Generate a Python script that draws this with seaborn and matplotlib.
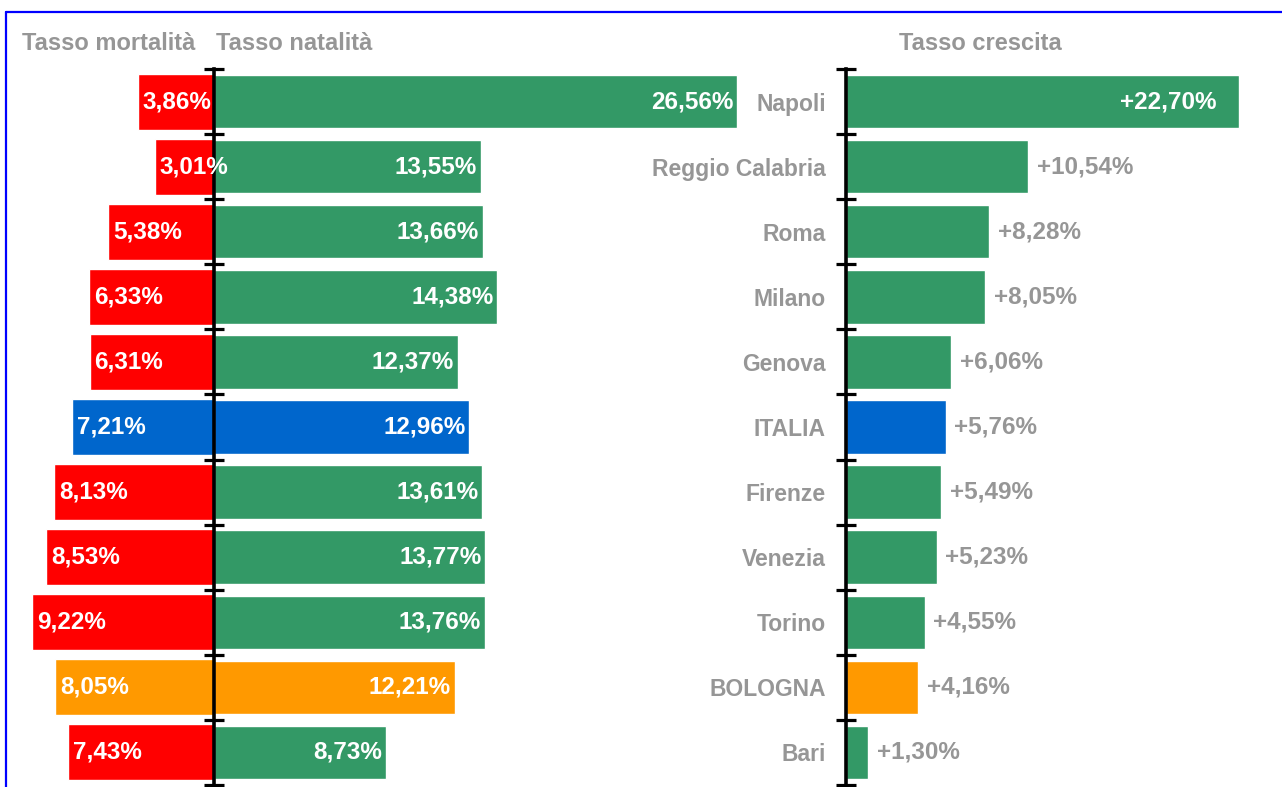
import numpy as np
import pandas as pd
import matplotlib
matplotlib.use("Agg")
import matplotlib.pyplot as plt
from matplotlib.lines import Line2D
import seaborn as sns

# --- data -------------------------------------------------------------
cities = ["Napoli", "Reggio Calabria", "Roma", "Milano", "Genova", "ITALIA",
          "Firenze", "Venezia", "Torino", "BOLOGNA", "Bari"]
mortality = [3.86, 3.01, 5.38, 6.33, 6.31, 7.21, 8.13, 8.53, 9.22, 8.05, 7.43]
natality = [26.56, 13.55, 13.66, 14.38, 12.37, 12.96, 13.61, 13.77, 13.76, 12.21, 8.73]
growth = [22.70, 10.54, 8.28, 8.05, 6.06, 5.76, 5.49, 5.23, 4.55, 4.16, 1.30]

# --- style ------------------------------------------------------------
GREEN, RED, BLUE, ORANGE = "#339966", "#FF0000", "#0066CC", "#FF9900"
GRAY = "#969696"
special = {"ITALIA": BLUE, "BOLOGNA": ORANGE}
mort_pal = {c: special.get(c, RED) for c in cities}
nat_pal = {c: special.get(c, GREEN) for c in cities}
gro_pal = {c: special.get(c, GREEN) for c in cities}

sns.set_style("white")
plt.rcParams["font.family"] = ["Liberation Sans", "DejaVu Sans"]
plt.rcParams["font.weight"] = "bold"
FS = 17.5      # value labels
FS_CITY = 16.5
FS_HEAD = 17

W, H = 1282, 787
fig = plt.figure(figsize=(W / 100, H / 100), dpi=100)
fig.patch.set_facecolor("white")


def px_axes(left, top, right, bottom):
    return fig.add_axes([left / W, 1 - bottom / H, (right - left) / W, (bottom - top) / H])


def fmt(v, sign=False):
    s = f"{v:.2f}".replace(".", ",") + "%"
    return ("+" + s) if sign else s


df = pd.DataFrame({"city": cities, "mort": mortality, "nat": natality, "gro": growth})
df["mort_neg"] = -df["mort"]
n = len(cities)
bounds = np.arange(n + 1) - 0.5


def style_axis(ax):
    for side in ("top", "right", "bottom"):
        ax.spines[side].set_visible(False)
    ax.spines["left"].set_linewidth(2.6)
    ax.spines["left"].set_color("black")
    ax.spines["left"].set_zorder(4)
    ax.set_ylim(n - 0.5, -0.5)
    ax.set_yticks(bounds)
    ax.set_yticklabels([""] * len(bounds))
    ax.tick_params(axis="y", which="major", direction="inout", length=14,
                   width=2.3, color="black", left=True)
    ax.set_xticks([])
    ax.set_xlabel("")
    ax.set_ylabel("")
    ax.set_facecolor("none")


# --- left panel: mortality (left) and natality (right) -----------------
axL = px_axes(14, 69, 740, 785)
sns.barplot(data=df, x="mort_neg", y="city", hue="city", order=cities,
            palette=mort_pal, saturation=1, width=0.86, legend=False, ax=axL)
sns.barplot(data=df, x="nat", y="city", hue="city", order=cities,
            palette=nat_pal, saturation=1, width=0.82, legend=False, ax=axL)
axL.set_xlim(-10.152, 26.70)
axL.spines["left"].set_position(("data", 0))
style_axis(axL)

for i, (m, v) in enumerate(zip(mortality, natality)):
    axL.text(-m + 0.25, i, fmt(m), ha="left", va="center", color="white",
             fontsize=FS, fontweight="bold", zorder=6)
    axL.text(v - 0.2, i, fmt(v), ha="right", va="center", color="white",
             fontsize=FS, fontweight="bold", zorder=6)

# --- right panel: growth ----------------------------------------------
axR = px_axes(846, 69, 1270, 785)
sns.barplot(data=df, x="gro", y="city", hue="city", order=cities,
            palette=gro_pal, saturation=1, width=0.82, legend=False, ax=axR)
axR.set_xlim(0, 24.5)
style_axis(axR)
axR.set_yticks(np.arange(n), minor=True)
axR.set_yticklabels(cities, minor=True, color=GRAY, fontsize=FS_CITY, fontweight="bold")
axR.tick_params(axis="y", which="minor", length=0, pad=14.5)

for i, g in enumerate(growth):
    if g > 15:
        axR.text(g - 1.27, i, fmt(g, True), ha="right", va="center", color="white",
                 fontsize=FS, fontweight="bold", zorder=6)
    else:
        axR.text(g + 0.5, i, fmt(g, True), ha="left", va="center", color=GRAY,
                 fontsize=FS, fontweight="bold", zorder=6)

# --- headers ----------------------------------------------------------
fig.text(22 / W, 1 - 44 / H, "Tasso mortalità", ha="left", va="center",
         color=GRAY, fontsize=FS_HEAD, fontweight="bold")
fig.text(216 / W, 1 - 44 / H, "Tasso natalità", ha="left", va="center",
         color=GRAY, fontsize=FS_HEAD, fontweight="bold")
fig.text(980 / W, 1 - 44 / H, "Tasso crescita", ha="center", va="center",
         color=GRAY, fontsize=FS_HEAD, fontweight="bold")

# --- frame ------------------------------------------------------------
fig.add_artist(Line2D([6 / W, 1], [1 - 12 / H, 1 - 12 / H], color="#0000FF",
                      lw=1.6, transform=fig.transFigure))
fig.add_artist(Line2D([6 / W, 6 / W], [1 - 12 / H, 0], color="#0000FF",
                      lw=1.6, transform=fig.transFigure))

fig.savefig("out.png", dpi=100, facecolor="white")
